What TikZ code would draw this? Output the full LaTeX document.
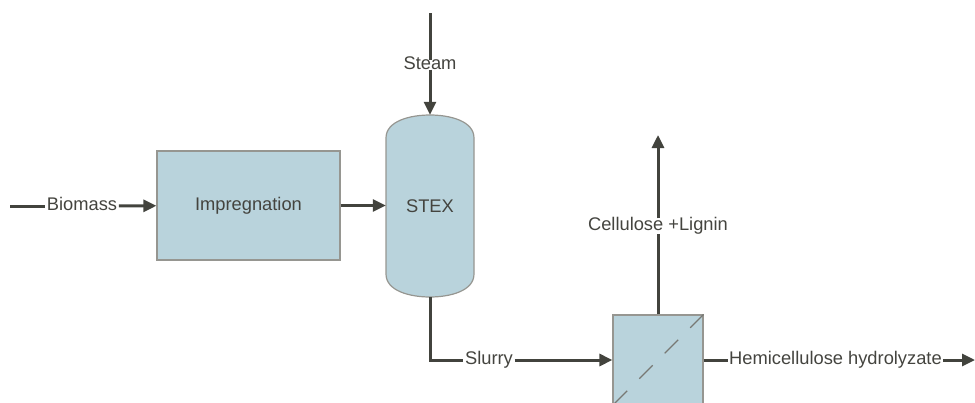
\documentclass[tikz,border=0pt]{standalone}
\usepackage{fontspec}
\setmainfont{Liberation Sans}
\usetikzlibrary{arrows.meta,calc}
\definecolor{boxfill}{RGB}{185,211,220}
\definecolor{boxline}{RGB}{150,150,145}
\definecolor{flow}{RGB}{66,67,61}
\definecolor{txt}{RGB}{68,68,63}
\begin{document}
\begin{tikzpicture}[x=1pt,y=-1pt,
  every node/.style={font=\fontsize{18.3}{22}\selectfont, text=txt},
  unit/.style={draw=boxline, fill=boxfill, line width=1.2pt, inner sep=0pt},
  lbl/.style={inner xsep=1.5pt, inner ysep=0pt, text height=0.88em, text depth=0pt},
  stream/.style={draw=flow, line width=3pt},
  arr/.style={stream, -{Triangle[length=13pt,width=12pt]}}]
\useasboundingbox (0,0) rectangle (975,402);

% units
\node[unit, minimum width=183, minimum height=109] (imp) at (248.5,205.5) {Impregnation};
\draw[draw=boxline, fill=boxfill, line width=1.2pt]
  (386,138) -- (386,274) .. controls (386,291) and (410,297) .. (430,297)
  .. controls (450,297) and (474,291) .. (474,274) -- (474,138)
  .. controls (474,121) and (450,115) .. (430,115)
  .. controls (410,115) and (386,121) .. (386,138) -- cycle;
\node[inner sep=0pt, minimum width=88, minimum height=182] (stex) at (430,206) {STEX};
\node[unit, minimum width=90, minimum height=90] (filt) at (658,360) {};
\draw[boxline!80!black, line width=1.1pt, dash pattern=on 19pt off 17pt]
  (filt.north east) -- (filt.south west);

% labels
\node[lbl] (bio) at (82,206) {Biomass};
\node[lbl] (steam) at (430,65) {Steam};
\node[lbl] (slurry) at (489,360) {Slurry};
\node[lbl, inner ysep=3pt] (cel) at (658,226) {Cellulose +Lignin};
\node[lbl] (hemi) at (835.5,360) {Hemicellulose hydrolyzate};

\coordinate (bioin) at (10,206);
\coordinate (steamin) at (430,13);
\coordinate (celout) at (658,135);
\coordinate (hemiout) at (975,360);
\coordinate (bend) at (430,360);

% streams
\draw[stream] (bioin) -- (bio);
\draw[arr] (bio) -- (imp);
\draw[arr] (imp.east) -- (stex.west |- imp.east);
\draw[stream] (steamin) -- (steam);
\draw[arr] (steam) -- (stex.north);
\draw[stream] (stex.south) -- (bend) -- (slurry.west);
\draw[arr] (slurry) -- (filt.west);
\draw[stream] (filt.north) -- (cel);
\draw[arr] (cel) -- (celout);
\draw[stream] (filt.east) -- (hemi);
\draw[arr] (hemi) -- (hemiout);
\end{tikzpicture}
\end{document}
